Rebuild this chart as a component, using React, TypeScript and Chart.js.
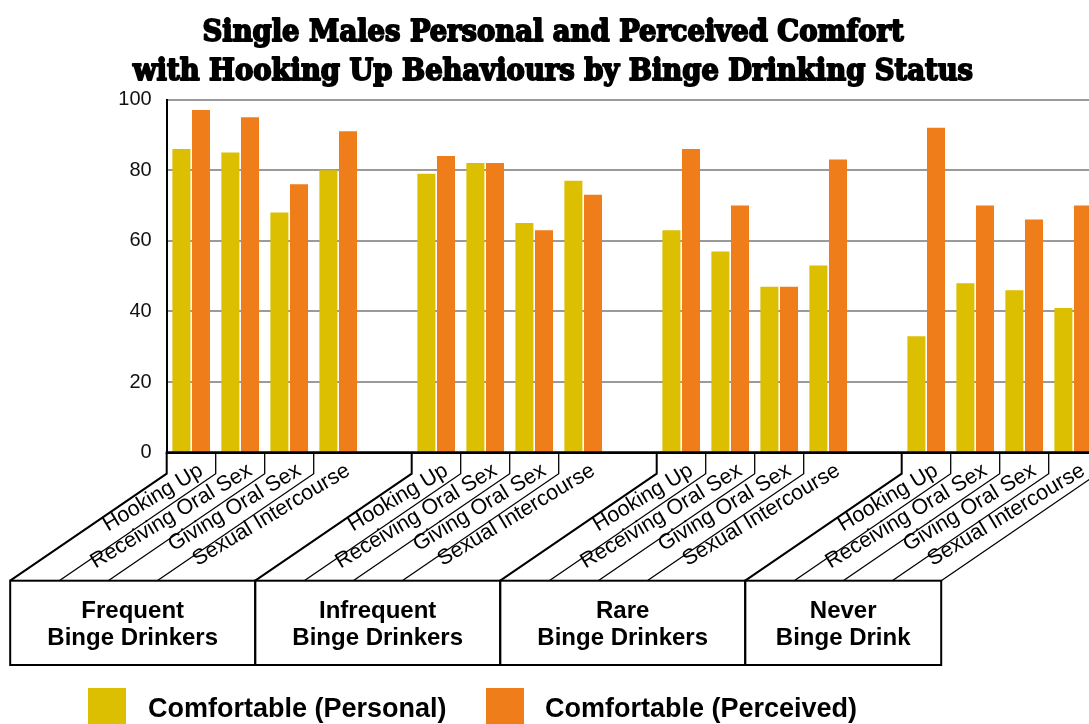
import React, { useEffect, useRef } from "react";
import { Chart, registerables } from "chart.js";

Chart.register(...registerables);

const titleLines = [
  "Single Males Personal and Perceived Comfort",
  "with Hooking Up Behaviours by Binge Drinking Status",
];
const behaviours = ["Hooking Up", "Receiving Oral Sex", "Giving Oral Sex", "Sexual Intercourse"];
const groupNames = [
  ["Frequent", "Binge Drinkers"],
  ["Infrequent", "Binge Drinkers"],
  ["Rare", "Binge Drinkers"],
  ["Never", "Binge Drink"],
];
const personal = [86, 85, 68, 80, 79, 82, 65, 77, 63, 57, 47, 53, 33, 48, 46, 41];
const perceived = [97, 95, 76, 91, 84, 82, 63, 73, 86, 70, 47, 83, 92, 70, 66, 70];
const seriesNames = ["Comfortable (Personal)", "Comfortable (Perceived)"];
const seriesColors = ["#DBBF00", "#EE7D1A"];
const yTicks = [0, 20, 40, 60, 80, 100];

// Build 19 slots: 4 behaviours per group, an empty spacer between groups
const labels: string[] = [];
const personalSlots: (number | null)[] = [];
const perceivedSlots: (number | null)[] = [];
groupNames.forEach((_, g) => {
  behaviours.forEach((b, k) => {
    labels.push(b);
    personalSlots.push(personal[g * 4 + k]);
    perceivedSlots.push(perceived[g * 4 + k]);
  });
  if (g < groupNames.length - 1) {
    labels.push("");
    personalSlots.push(null);
    perceivedSlots.push(null);
  }
});

const CANVAS_W = 1110;
const CANVAS_H = 724;

const decorPlugin = {
  id: "decor",
  afterDraw(chart: any) {
    const { ctx, chartArea: ca, scales } = chart;
    const x = scales.x;
    const n = labels.length;
    const w = (ca.right - ca.left) / n;
    const bottom = ca.bottom;
    const dropY = bottom + 21;
    const boxTop = bottom + 128;
    const boxBottom = bottom + 212.3;
    const dx = 156.5;
    const leftEdge = (i: number) => (i >= n ? ca.right : x.getPixelForValue(i) - w / 2);

    ctx.save();
    // x axis line
    ctx.strokeStyle = "#000";
    ctx.lineWidth = 2.8;
    ctx.beginPath();
    ctx.moveTo(ca.left - 1, bottom);
    ctx.lineTo(ca.right, bottom);
    ctx.stroke();

    // category separators and rotated labels
    const drawSep = (xl: number, lw: number) => {
      ctx.lineWidth = lw;
      ctx.beginPath();
      ctx.moveTo(xl, bottom);
      ctx.lineTo(xl, dropY);
      ctx.lineTo(xl - dx, boxTop);
      ctx.stroke();
    };
    labels.forEach((lab, i) => {
      if (!lab) return;
      const xl = leftEdge(i);
      const groupStart = i === 0 || labels[i - 1] === "";
      drawSep(xl, groupStart ? 2 : 1.3);
      ctx.save();
      ctx.translate(xl + 37.5, bottom + 21.3);
      ctx.rotate((-31 * Math.PI) / 180);
      ctx.fillStyle = "#000";
      ctx.font = '21.5px "Liberation Sans", Arial, sans-serif';
      ctx.textAlign = "right";
      ctx.textBaseline = "alphabetic";
      ctx.fillText(lab, 0, 0);
      ctx.restore();
    });
    drawSep(ca.right, 1.3);

    // group boxes
    ctx.lineWidth = 2;
    groupNames.forEach((gn, g) => {
      const s = g * 5;
      const x0 = leftEdge(s) - dx;
      const x1 = leftEdge(Math.min(s + 5, n)) - dx;
      ctx.strokeRect(x0, boxTop, x1 - x0, boxBottom - boxTop);
      ctx.fillStyle = "#000";
      ctx.font = 'bold 24px "Liberation Sans", Arial, sans-serif';
      ctx.textAlign = "center";
      ctx.textBaseline = "alphabetic";
      const cx = (x0 + x1) / 2;
      ctx.fillText(gn[0], cx, boxTop + 37.6);
      ctx.fillText(gn[1], cx, boxTop + 64.3);
    });

    // title (heavy slab look: fill + stroke)
    ctx.fillStyle = "#000";
    ctx.strokeStyle = "#000";
    ctx.lineWidth = 1.8;
    ctx.lineJoin = "round";
    ctx.font = 'bold 30px "DejaVu Serif Condensed", "DejaVu Serif", serif';
    ctx.textAlign = "center";
    const w2 = ctx.measureText(titleLines[1]).width;
    const sx = Math.max(0.7, Math.min(1.2, 840 / w2));
    [40.5, 79.5].forEach((by, k) => {
      ctx.save();
      ctx.translate(553, by);
      ctx.scale(sx, 1);
      ctx.fillText(titleLines[k], 0, 0);
      ctx.strokeText(titleLines[k], 0, 0);
      ctx.restore();
    });

    // legend
    const legendX = [[88, 148], [486, 545]];
    seriesNames.forEach((name, k) => {
      ctx.fillStyle = seriesColors[k];
      ctx.fillRect(legendX[k][0], 688, 38, 38);
      ctx.fillStyle = "#000";
      ctx.font = 'bold 27px "Liberation Sans", Arial, sans-serif';
      ctx.textAlign = "left";
      ctx.fillText(name, legendX[k][1], 717);
    });
    ctx.restore();
  },
};

export default function App() {
  const ref = useRef<HTMLCanvasElement | null>(null);
  useEffect(() => {
    if (!ref.current) return;
    const chart = new Chart(ref.current, {
      type: "bar",
      data: {
        labels,
        datasets: [
          {
            label: seriesNames[0],
            data: personalSlots,
            backgroundColor: seriesColors[0],
            categoryPercentage: 0.8,
            barPercentage: 0.92,
          },
          {
            label: seriesNames[1],
            data: perceivedSlots,
            backgroundColor: seriesColors[1],
            categoryPercentage: 0.8,
            barPercentage: 0.92,
          },
        ],
      },
      options: {
        responsive: false,
        animation: false,
        devicePixelRatio: 1,
        layout: {
          padding: { top: 99.5, left: 0, right: CANVAS_W - 1097.7, bottom: CANVAS_H - 452.7 },
        },
        plugins: {
          legend: { display: false },
          title: { display: false },
          tooltip: { enabled: false },
        },
        scales: {
          x: { display: false, offset: true },
          y: {
            min: 0,
            max: 100,
            afterFit: (scale: any) => {
              scale.width = 166.7;
            },
            afterBuildTicks: (scale: any) => {
              scale.ticks = yTicks.map((v) => ({ value: v }));
            },
            ticks: {
              padding: 15,
              color: "#111",
              font: { size: 20, family: '"Liberation Sans", Arial, sans-serif' },
            },
            grid: { color: "#9a9a9a", lineWidth: 2, drawTicks: false },
            border: { display: true, color: "#000", width: 2 },
          },
        },
      },
      plugins: [decorPlugin],
    });
    return () => chart.destroy();
  }, []);

  return (
    <div
      style={{
        position: "fixed",
        left: 0,
        top: 0,
        width: 1089,
        height: 724,
        overflow: "hidden",
        background: "#fff",
      }}
    >
      <canvas
        ref={ref}
        width={CANVAS_W}
        height={CANVAS_H}
        style={{ display: "block", width: CANVAS_W, height: CANVAS_H }}
      />
    </div>
  );
}
